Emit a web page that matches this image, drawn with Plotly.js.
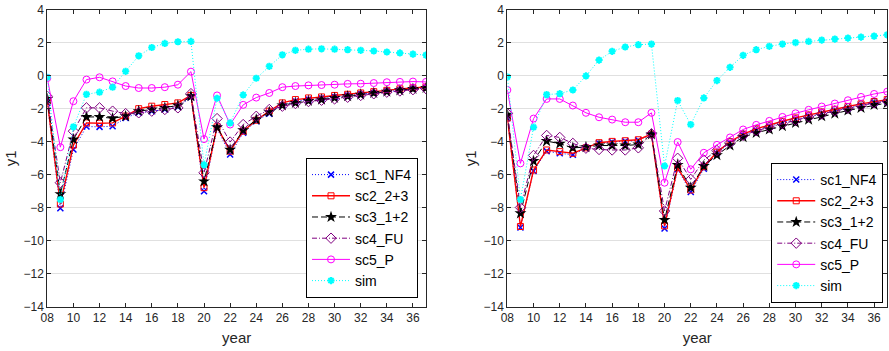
<!DOCTYPE html>
<html>
<head>
<meta charset="utf-8">
<script src="https://cdn.plot.ly/plotly-3.0.1.min.js"></script>
<style>html,body{margin:0;padding:0;background:#fff;}#chart{width:889px;height:351px;}</style>
</head>
<body>
<div id="chart"></div>
<script>
const years = [8,9,10,11,12,13,14,15,16,17,18,19,20,21,22,23,24,25,26,27,28,29,30,31,32,33,34,35,36,37];
const tickVals = [8,10,12,14,16,18,20,22,24,26,28,30,32,34,36];
const tickLabels = ["08","10","12","14","16","18","20","22","24","26","28","30","32","34","36"];
const seriesNames = ["sc1_NF4","sc2_2+3","sc3_1+2","sc4_FU","sc5_P","sim"];

// Left panel
const L_sc1 = [-1.65,-8.03,-4.47,-3.08,-3.1,-3.06,-2.56,-2.25,-2.15,-2.05,-1.9,-1.3,-7.0,-3.2,-4.77,-3.46,-2.76,-2.3,-1.8,-1.55,-1.45,-1.37,-1.29,-1.2,-1.13,-1.05,-0.97,-0.89,-0.8,-0.75];
const L_sc2 = [-1.55,-7.77,-4.2,-2.86,-2.88,-2.86,-2.45,-2.0,-1.85,-1.75,-1.65,-1.2,-6.78,-3.1,-4.57,-3.36,-2.7,-2.15,-1.65,-1.45,-1.35,-1.29,-1.2,-1.13,-1.05,-0.97,-0.89,-0.8,-0.73,-0.69];
const L_sc3 = [-1.41,-7.17,-3.86,-2.5,-2.5,-2.58,-2.46,-2.15,-2.05,-1.95,-1.81,-1.25,-6.4,-3.12,-4.49,-3.3,-2.66,-2.21,-1.8,-1.65,-1.53,-1.45,-1.35,-1.25,-1.15,-1.05,-0.97,-0.89,-0.8,-0.75];
const L_sc4 = [-1.25,-6.48,-3.36,-1.95,-1.95,-2.15,-2.3,-2.25,-2.15,-2.05,-1.95,-1.09,-5.88,-2.6,-4.02,-2.96,-2.46,-2.05,-1.85,-1.69,-1.57,-1.49,-1.41,-1.31,-1.2,-1.1,-1.0,-0.93,-0.85,-0.79];
const L_sc5 = [-0.15,-4.33,-1.55,-0.24,-0.1,-0.35,-0.63,-0.75,-0.75,-0.7,-0.55,0.24,-3.84,-1.2,-2.96,-1.77,-1.33,-1.05,-0.7,-0.63,-0.59,-0.57,-0.55,-0.5,-0.49,-0.45,-0.4,-0.38,-0.36,-0.38];
const L_sim = [-0.1,-7.5,-3.1,-1.13,-1.0,-0.7,0.26,1.2,1.7,1.95,2.05,2.07,-5.4,-1.37,-2.86,-1.17,-0.16,0.56,1.26,1.53,1.6,1.62,1.6,1.57,1.53,1.49,1.43,1.37,1.3,1.24];

// Right panel
const R_sc1 = [-2.58,-9.19,-5.77,-4.57,-4.7,-4.79,-4.39,-4.1,-4.02,-3.98,-3.92,-3.56,-9.25,-5.67,-7.04,-5.63,-4.7,-4.06,-3.62,-3.32,-3.06,-2.86,-2.66,-2.46,-2.3,-2.13,-1.97,-1.81,-1.65,-1.55];
const R_sc2 = [-2.56,-9.13,-5.71,-4.5,-4.6,-4.7,-4.37,-4.06,-3.98,-3.94,-3.88,-3.54,-9.09,-5.57,-6.92,-5.51,-4.63,-4.0,-3.54,-3.22,-2.98,-2.76,-2.56,-2.38,-2.2,-2.04,-1.87,-1.71,-1.57,-1.45];
const R_sc3 = [-2.36,-8.33,-5.17,-3.96,-4.12,-4.37,-4.33,-4.23,-4.23,-4.23,-4.17,-3.56,-8.73,-5.41,-6.78,-5.47,-4.81,-4.23,-3.72,-3.46,-3.26,-3.06,-2.86,-2.66,-2.46,-2.3,-2.11,-1.95,-1.77,-1.65];
const R_sc4 = [-2.3,-7.98,-4.83,-3.62,-3.74,-4.1,-4.39,-4.47,-4.5,-4.5,-4.37,-3.52,-8.19,-5.0,-6.28,-5.11,-4.53,-4.06,-3.62,-3.34,-3.12,-2.9,-2.7,-2.5,-2.32,-2.13,-1.97,-1.81,-1.65,-1.55];
const R_sc5 = [-0.87,-5.31,-2.6,-1.41,-1.41,-1.81,-2.25,-2.52,-2.66,-2.82,-2.82,-2.25,-6.48,-4.02,-5.67,-4.67,-4.19,-3.74,-3.26,-2.98,-2.74,-2.5,-2.28,-2.07,-1.87,-1.69,-1.49,-1.29,-1.11,-0.97];
const R_sim = [-0.08,-7.5,-3.12,-1.15,-1.09,-0.87,-0.02,0.94,1.47,1.73,1.87,1.91,-5.47,-1.51,-2.96,-1.35,-0.3,0.5,1.23,1.57,1.77,1.91,2.0,2.07,2.15,2.21,2.27,2.33,2.39,2.47];

const styles = [
  {line:{color:'#0000ff',width:1,dash:'1px,2px'}, marker:{symbol:'x-thin-open',size:6,color:'#0000ff',line:{color:'#0000ff',width:1.5}}},
  {line:{color:'#ff0000',width:1.4,dash:'solid'}, marker:{symbol:'square-open',size:6,color:'#ff0000',line:{color:'#ff0000',width:1}}},
  {line:{color:'#000000',width:1,dash:'6px,3px'}, marker:{symbol:'star',size:9,color:'#000000',line:{color:'#000000',width:0}}},
  {line:{color:'#800080',width:1,dash:'5px,2px,1px,2px'}, marker:{symbol:'diamond-open',size:8,color:'#800080',line:{color:'#800080',width:1}}},
  {line:{color:'#ff00ff',width:1,dash:'solid'}, marker:{symbol:'circle-open',size:7,color:'#ff00ff',line:{color:'#ff00ff',width:1}}},
  {line:{color:'#00ffff',width:1,dash:'1px,2px'}, marker:{symbol:'asterisk-open',size:6,color:'#00ffff',line:{color:'#00ffff',width:2}}}
];

const leftData = [L_sc1,L_sc2,L_sc3,L_sc4,L_sc5,L_sim];
const rightData = [R_sc1,R_sc2,R_sc3,R_sc4,R_sc5,R_sim];

const traces = [];
leftData.forEach((ys,i)=>{
  traces.push({x:years,y:ys,name:seriesNames[i],type:'scatter',mode:'lines+markers',
    xaxis:'x',yaxis:'y',legend:'legend',line:styles[i].line,marker:styles[i].marker});
});
rightData.forEach((ys,i)=>{
  traces.push({x:years,y:ys,name:seriesNames[i],type:'scatter',mode:'lines+markers',
    xaxis:'x2',yaxis:'y2',legend:'legend2',line:styles[i].line,marker:styles[i].marker});
});

const FONT = 'Liberation Sans, Arial, sans-serif';
const axisCommon = {
  showline:true, linecolor:'#262626', linewidth:1, mirror:'allticks',
  ticks:'inside', ticklen:4, tickcolor:'#262626', tickwidth:1,
  tickfont:{family:FONT, size:12, color:'#262626'},
  zeroline:false
};
function xax(domain, anchor){
  return Object.assign({}, axisCommon, {
    domain:domain, anchor:anchor, range:[8,37], tickmode:'array', tickvals:tickVals, ticktext:tickLabels,
    showgrid:false,
    title:{text:'year', font:{family:FONT, size:15, color:'#262626'}, standoff:8}
  });
}
function yax(anchor){
  return Object.assign({}, axisCommon, {
    domain:[0.1254,0.9729], anchor:anchor, range:[-14,4], tickmode:'linear', tick0:-14, dtick:2,
    showgrid:true, gridcolor:'#e0e0e0', gridwidth:1,
    title:{text:'y1', font:{family:FONT, size:15, color:'#262626'}, standoff:3}
  });
}
const legendCommon = {
  bgcolor:'#ffffff', bordercolor:'#000000', borderwidth:1,
  font:{family:FONT, size:14, color:'#000000'},
  xanchor:'right', yanchor:'bottom', itemwidth:38, tracegroupgap:0
};

const layout = {
  width:889, height:351,
  margin:{l:0,r:0,t:0,b:0},
  paper_bgcolor:'#ffffff', plot_bgcolor:'#ffffff',
  showlegend:true,
  xaxis: xax([0.0532,0.4792],'y'),
  yaxis: yax('x'),
  xaxis2: xax([0.5707,0.998],'y2'),
  yaxis2: yax('x2'),
  legend: Object.assign({}, legendCommon, {x:0.4702, y:0.151}),
  legend2: Object.assign({}, legendCommon, {x:0.9935, y:0.1368})
};

Plotly.newPlot('chart', traces, layout, {displayModeBar:false, staticPlot:true});
</script>
</body>
</html>
